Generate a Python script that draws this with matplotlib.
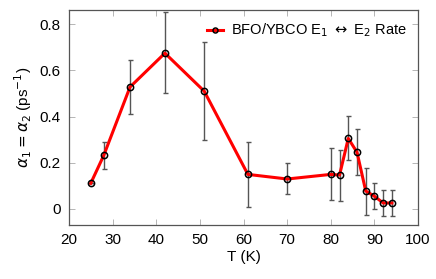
import numpy as np
import matplotlib
matplotlib.use('Agg')
import matplotlib.pyplot as plt
from matplotlib.ticker import FuncFormatter

plt.rcParams['font.family'] = ['Liberation Sans', 'DejaVu Sans']
plt.rcParams['mathtext.fontset'] = 'dejavusans'

# temperature (K) and rate (ps^-1)
temps = [25, 28, 34, 42, 51, 61, 70, 80, 82, 84, 86, 88, 90, 92, 94]
rate = [0.11, 0.232, 0.528, 0.675, 0.51, 0.149, 0.129, 0.149, 0.146, 0.305, 0.245, 0.077, 0.054, 0.025, 0.025]
err_hi = [0.11, 0.289, 0.644, 0.852, 0.725, 0.288, 0.197, 0.262, 0.256, 0.402, 0.344, 0.175, 0.11, 0.081, 0.081]
err_lo = [0.11, 0.172, 0.412, 0.50, 0.297, 0.009, 0.062, 0.038, 0.033, 0.21, 0.146, -0.026, -0.001, -0.032, -0.032]

rate = np.array(rate)
yerr = np.vstack([rate - np.array(err_lo), np.array(err_hi) - rate])

fig = plt.figure(figsize=(4.36, 2.79), dpi=100)
ax = fig.add_axes([0.158, 0.194, 0.801, 0.770])

ax.errorbar(temps, rate, yerr=yerr, fmt='none', ecolor='#555555', elinewidth=1.0,
            capsize=1.8, capthick=1.0, zorder=2)
ax.plot(temps, rate, color='red', lw=2.2, marker='o', ms=4.5, mfc='none',
        mec='black', mew=1.1, zorder=3,
        label=r'BFO/YBCO E$_1$ $\leftrightarrow$ E$_2$ Rate')

ax.set_xlim(20, 100)
ax.set_ylim(-0.07, 0.862)
ax.set_xticks(np.arange(20, 101, 10))
ax.set_yticks([0, 0.2, 0.4, 0.6, 0.8])
ax.yaxis.set_major_formatter(FuncFormatter(lambda v, p: '0' if abs(v) < 1e-9 else f'{v:.1f}'))

for s in ax.spines.values():
    s.set_color('#555555')
    s.set_linewidth(0.9)
ax.tick_params(direction='in', top=True, right=True, length=4, width=0.6,
               color='#aaaaaa', labelsize=11, pad=6)

ax.set_xlabel('T (K)', fontsize=11, labelpad=2)
ax.set_ylabel(r'$\alpha_1 = \alpha_2$ (ps$^{-1}$)', fontsize=11, labelpad=4)

ax.legend(loc='upper right', frameon=False, fontsize=10.5, handlelength=1.1,
          handletextpad=0.5, borderaxespad=0.4, markerscale=0.8)

fig.savefig('out.png', dpi=100)
